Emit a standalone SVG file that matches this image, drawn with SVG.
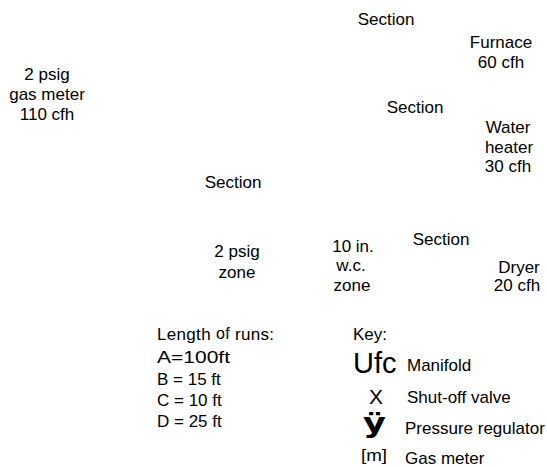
<svg xmlns="http://www.w3.org/2000/svg" width="547" height="467" viewBox="0 0 547 467">
<style>
text{font-family:"Liberation Sans",Arial,sans-serif;font-size:17px;fill:#000}
.c{text-anchor:middle}
.big{font-size:29px}
.sym{font-size:21px}
.reg{font-family:"DejaVu Sans",sans-serif;font-weight:bold;font-size:27px}
</style>
<rect width="547" height="467" fill="#fff"/>
<g id="meter"><text x="47" y="80" class="c">2 psig</text><text x="47" y="100" class="c">gas meter</text><text x="47" y="120" class="c">110 cfh</text></g>
<g id="section-a"><text x="233" y="188" class="c">Section</text></g>
<g id="section-b"><text x="386" y="25" class="c">Section</text></g>
<g id="furnace"><text x="501" y="48" class="c">Furnace</text><text x="501" y="68" class="c">60 cfh</text></g>
<g id="section-c"><text x="415" y="113" class="c">Section</text></g>
<g id="water-heater"><text x="508" y="133" class="c">Water</text><text x="509" y="153" class="c">heater</text><text x="508" y="172" class="c">30 cfh</text></g>
<g id="zone-2psig"><text x="237" y="257" class="c">2 psig</text><text x="237" y="278" class="c">zone</text></g>
<g id="zone-wc"><text x="353" y="252" class="c">10 in.</text><text x="351" y="271" class="c">w.c.</text><text x="352" y="291" class="c">zone</text></g>
<g id="section-d"><text x="441" y="245" class="c">Section</text></g>
<g id="dryer"><text x="519" y="273" class="c">Dryer</text><text x="517" y="291" class="c">20 cfh</text></g>
<g id="runs">
<text x="157" y="340" textLength="117" lengthAdjust="spacing">Length <tspan font-size="16" dy="-1">of</tspan><tspan dy="1"> runs:</tspan></text>
<text x="157" y="363" font-size="18" textLength="73" lengthAdjust="spacingAndGlyphs">A=100ft</text>
<text x="157" y="385">B = 15 ft</text>
<text x="157" y="406">C = 10 ft</text>
<text x="157" y="427">D = 25 ft</text>
</g>
<g id="key">
<text x="353" y="340">Key:</text>
<text x="353" y="373" class="big">Ufc</text>
<text x="407" y="371">Manifold</text>
<text x="376" y="404" class="sym c">X</text>
<text x="407" y="403">Shut-off valve</text>
<text x="363" y="432" class="reg" textLength="23" lengthAdjust="spacingAndGlyphs">ÿ</text>
<text x="361" y="461" font-size="26" textLength="26" lengthAdjust="spacingAndGlyphs">[m]</text>
<text x="405" y="434">Pressure regulator</text>
<text x="405" y="464">Gas meter</text>
</g>
<g id="connectors"></g>
</svg>
